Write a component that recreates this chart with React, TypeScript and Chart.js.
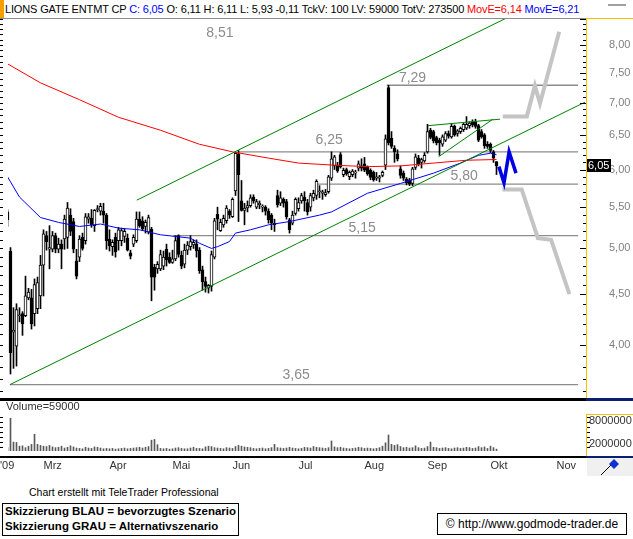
import React, { useEffect, useRef } from "react";
import { Chart, registerables } from "chart.js";

Chart.register(...registerables);

// ---------- DATA ----------
const FIRST_DAY = -12; // trading-day index of first candle (0 = 2 Mar 2009)

const opens = [
  5.44, 4.97, 4.12, 3.99, 4.28, 4.30, 4.28, 4.46, 4.46, 4.30,
  4.35, 4.48, 4.81, 5.15, 4.99, 4.99, 5.15, 4.99, 5.05, 5.11,
  5.13, 5.40, 5.32, 4.86, 4.90, 5.13, 5.09, 5.35, 5.36, 5.27,
  5.47, 5.45, 5.45, 5.40, 5.11, 5.02, 5.13, 5.09, 5.09, 5.14,
  5.12, 4.95, 5.05, 5.09, 5.35, 5.33, 5.26, 5.19, 5.23, 4.79,
  4.77, 4.77, 4.80, 4.99, 4.90, 4.84, 4.88, 5.15, 4.92, 4.82,
  4.98, 5.02, 5.04, 5.05, 4.98, 4.76, 4.63, 4.56, 4.58, 4.90,
  5.41, 5.21, 5.28, 5.33, 5.45, 5.38, 5.71, 6.22, 5.58, 5.46,
  5.49, 5.52, 5.63, 5.50, 5.53, 5.50, 5.50, 5.45, 5.40, 5.30,
  5.65, 5.55, 5.60, 5.57, 5.34, 5.30, 5.42, 5.48, 5.58, 5.63,
  5.56, 5.50, 5.62, 5.65, 5.70, 5.68, 5.66, 5.70, 5.88, 6.05,
  6.06, 6.21, 5.93, 6.00, 5.90, 5.93, 5.95, 6.02, 6.05, 6.08,
  6.03, 5.99, 5.96, 5.88, 5.88, 5.92, 6.06, 7.25, 6.45, 6.30,
  6.22, 6.01, 5.95, 5.87, 5.86, 5.81, 6.03, 6.16, 6.10, 6.12,
  6.25, 6.57, 6.55, 6.46, 6.42, 6.36, 6.42, 6.52, 6.47, 6.63,
  6.52, 6.55, 6.58, 6.60, 6.64, 6.70, 6.70, 6.64, 6.55, 6.50,
  6.36, 6.36, 6.25, 6.11,
];
const highs = [
  5.47, 5.01, 4.36, 4.40, 4.36, 4.32, 4.69, 4.56, 4.55, 4.66,
  4.68, 4.92, 5.22, 5.20, 5.27, 5.20, 5.18, 5.12, 5.10, 5.40,
  5.56, 5.48, 5.36, 4.99, 5.15, 5.18, 5.42, 5.42, 5.47, 5.47,
  5.52, 5.55, 5.55, 5.42, 5.22, 5.10, 5.18, 5.25, 5.24, 5.23,
  5.17, 4.98, 5.16, 5.44, 5.44, 5.38, 5.34, 5.40, 5.25, 4.82,
  4.85, 4.98, 4.97, 5.05, 4.95, 4.98, 5.15, 5.16, 4.97, 5.05,
  5.08, 5.15, 5.10, 5.10, 5.01, 4.80, 4.68, 4.60, 4.97, 5.36,
  5.50, 5.35, 5.40, 5.52, 5.47, 5.62, 6.25, 6.27, 5.85, 5.55,
  5.58, 5.66, 5.66, 5.60, 5.58, 5.53, 5.52, 5.48, 5.42, 5.35,
  5.72, 5.70, 5.62, 5.60, 5.36, 5.45, 5.62, 5.62, 5.68, 5.70,
  5.60, 5.68, 5.72, 5.86, 5.78, 5.72, 5.73, 5.92, 6.25, 6.20,
  6.10, 6.24, 6.02, 6.02, 5.98, 6.00, 5.99, 6.12, 6.15, 6.17,
  6.05, 6.01, 5.98, 5.96, 5.92, 5.98, 6.50, 7.29, 6.55, 6.34,
  6.28, 6.05, 5.98, 5.89, 5.88, 6.03, 6.22, 6.20, 6.16, 6.24,
  6.66, 6.60, 6.57, 6.48, 6.45, 6.50, 6.55, 6.56, 6.66, 6.65,
  6.58, 6.62, 6.68, 6.78, 6.70, 6.73, 6.74, 6.66, 6.58, 6.52,
  6.40, 6.38, 6.27, 6.11,
];
const lows = [
  5.26, 3.74, 3.79, 3.81, 4.22, 4.09, 4.27, 4.44, 4.15, 4.18,
  4.30, 4.35, 4.48, 4.98, 4.77, 4.96, 4.95, 4.95, 4.77, 4.99,
  5.00, 5.15, 4.95, 4.66, 4.85, 4.98, 5.05, 5.30, 5.25, 5.20,
  5.44, 5.40, 5.30, 4.99, 4.97, 4.92, 4.90, 4.98, 5.03, 5.07,
  4.97, 4.88, 5.02, 5.07, 5.25, 5.21, 5.18, 5.17, 4.43, 4.54,
  4.72, 4.75, 4.76, 4.80, 4.83, 4.83, 4.86, 4.90, 4.77, 4.78,
  4.93, 4.98, 5.00, 4.90, 4.72, 4.54, 4.52, 4.51, 4.53, 4.88,
  5.22, 5.20, 5.25, 5.30, 5.36, 5.37, 5.65, 5.32, 5.45, 5.28,
  5.44, 5.50, 5.55, 5.48, 5.48, 5.44, 5.40, 5.30, 5.22, 5.20,
  5.50, 5.52, 5.50, 5.35, 5.18, 5.28, 5.40, 5.45, 5.55, 5.45,
  5.40, 5.45, 5.58, 5.60, 5.62, 5.60, 5.64, 5.68, 5.85, 6.00,
  5.96, 6.02, 5.90, 5.92, 5.86, 5.90, 5.88, 5.98, 5.98, 5.97,
  5.92, 5.86, 5.84, 5.85, 5.83, 5.90, 6.00, 6.35, 6.30, 6.10,
  6.12, 5.88, 5.85, 5.79, 5.78, 5.78, 6.00, 6.05, 6.02, 6.10,
  6.23, 6.44, 6.38, 6.35, 6.20, 6.33, 6.40, 6.45, 6.45, 6.48,
  6.48, 6.52, 6.55, 6.58, 6.60, 6.62, 6.60, 6.40, 6.45, 6.30,
  6.30, 6.24, 6.10, 5.93,
];
const closes = [
  5.34, 3.93, 4.14, 4.34, 4.29, 4.20, 4.48, 4.52, 4.20, 4.60,
  4.62, 4.81, 5.17, 5.08, 5.01, 5.15, 4.99, 5.05, 4.99, 5.35,
  5.49, 5.20, 4.99, 4.69, 5.11, 5.00, 5.38, 5.38, 5.28, 5.46,
  5.48, 5.51, 5.40, 5.09, 5.03, 5.07, 4.96, 5.22, 5.21, 5.20,
  4.98, 4.91, 5.13, 5.35, 5.27, 5.23, 5.31, 5.37, 4.68, 4.68,
  4.82, 4.93, 4.90, 4.87, 4.84, 4.88, 5.09, 4.93, 4.80, 4.98,
  5.04, 5.08, 5.07, 4.97, 4.75, 4.63, 4.58, 4.59, 4.93, 5.33,
  5.35, 5.31, 5.36, 5.49, 5.40, 5.60, 6.23, 5.93, 5.46, 5.49,
  5.52, 5.62, 5.58, 5.57, 5.55, 5.51, 5.45, 5.34, 5.30, 5.28,
  5.53, 5.62, 5.55, 5.38, 5.22, 5.40, 5.60, 5.56, 5.65, 5.58,
  5.44, 5.65, 5.68, 5.84, 5.71, 5.70, 5.69, 5.90, 6.15, 6.18,
  5.98, 6.04, 5.99, 5.94, 5.96, 5.98, 5.96, 6.08, 6.02, 5.99,
  5.94, 5.89, 5.86, 5.90, 5.90, 5.96, 6.44, 6.38, 6.33, 6.25,
  6.15, 5.92, 5.88, 5.82, 5.80, 6.01, 6.18, 6.08, 6.14, 6.20,
  6.55, 6.46, 6.41, 6.38, 6.38, 6.47, 6.52, 6.48, 6.63, 6.50,
  6.56, 6.60, 6.66, 6.66, 6.68, 6.65, 6.63, 6.42, 6.47, 6.34,
  6.33, 6.27, 6.16, 6.05,
];
// volume in thousands of shares
const volumesK = [
  900, 8800, 2400, 2300, 1300, 1400, 900, 1300, 1800, 4500,
  1800, 1500, 1300, 1200, 1500, 1100, 900, 1000, 1300, 800,
  1000, 1400, 1100, 800, 700, 600, 1000, 800, 700, 1100,
  1000, 800, 600, 700, 600, 700, 500, 600, 700, 800,
  600, 700, 800, 900, 1000, 800, 1000, 1200, 2900, 3100,
  1700, 700, 600, 700, 500, 600, 800, 900, 700, 600,
  600, 800, 1000, 700, 700, 600, 1100, 1300, 1200, 900,
  800, 700, 600, 900, 800, 700, 1200, 1500, 1300, 1100,
  1000, 900, 700, 600, 700, 800, 600, 700, 900, 1800,
  900, 800, 700, 800, 1000, 800, 700, 600, 700, 1000,
  900, 800, 1200, 1000, 900, 800, 700, 900, 2700, 1100,
  900, 1000, 800, 700, 600, 700, 800, 1000, 900, 700,
  800, 700, 600, 700, 900, 1300, 2200, 4300, 1800, 1500,
  1700, 1200, 900, 1000, 800, 900, 1400, 900, 700, 800,
  1200, 2400, 1000, 900, 700, 800, 900, 700, 600, 800,
  900, 700, 800, 1000, 900, 700, 800, 1200, 900, 1100,
  700, 1300, 900, 500,
];

const monthStartDays = [0, 22, 43, 63, 85, 107, 128, 149, 171];
const monthLabels = ["Mrz", "Apr", "Mai", "Jun", "Jul", "Aug", "Sep", "Okt", "Nov"];
const priceTicks = [4, 4.5, 5, 5.5, 6, 6.5, 7, 7.5, 8];
const volumeTicksK = [2000, 8000];

// moving averages (day index, value)
const redMaDays = [-12, -1, 12, 25, 39, 52, 63, 75, 85, 97, 108, 119, 130, 141, 151];
const redMaValues = [7.66, 7.33, 7.05, 6.77, 6.57, 6.36, 6.25, 6.16, 6.09, 6.06, 6.04, 6.05, 6.09, 6.13, 6.14];
const blueMaDays = [-12, -8, -1, 5, 12, 19, 25, 32, 39, 49, 52, 56, 58, 62, 64, 69, 75, 82, 92, 96, 108, 119, 130, 139, 145, 149, 151];
const blueMaValues = [5.9, 5.63, 5.37, 5.31, 5.26, 5.29, 5.24, 5.22, 5.16, 5.12, 5.06, 5.0, 5.02, 5.08, 5.18, 5.22, 5.28, 5.32, 5.4, 5.44, 5.68, 5.81, 5.95, 6.09, 6.2, 6.23, 6.21];

// horizontal levels
const levelValues = [8.51, 7.29, 6.25, 5.8, 5.15, 3.65];
const levelLabels = ["8,51", "7,29", "6,25", "5,80", "5,15", "3,65"];
const levelStartDays = [-11.8, 114.4, 64.8, 90.8, 43.2, -11.2];
const levelEndDay = 178.2;

// trend lines
const channelLowerDays = [-11.2, 180.5];
const channelLowerValues = [3.65, 7.01];
const channelUpperDays = [31.1, 156.2];
const channelUpperValues = [5.59, 8.57];
const wedgeUpperDays = [128.2, 152.2];
const wedgeUpperValues = [6.64, 6.74];
const wedgeLowerDays = [131.7, 149.8];
const wedgeLowerValues = [6.18, 6.74];

// scenario sketches
const blueScenarioDays = [151.8, 153.5, 155.2, 157.5];
const blueScenarioValues = [6.04, 5.82, 6.25, 5.95];
const grayUpDays = [153.1, 161.1, 163.8, 165.5, 171.9];
const grayUpValues = [6.78, 6.78, 7.28, 6.99, 8.25];
const grayDownDays = [153.0, 159.4, 164.8, 169.2, 175.3];
const grayDownValues = [5.73, 5.73, 5.12, 5.1, 4.5];

const headerName = "LIONS GATE ENTMT CP";
const headerClose = "C: 6,05";
const headerRest = "O: 6,11 H: 6,11 L: 5,93 -0,11 TckV: 100 LV: 59000 TotV: 273500";
const headerMa1 = "MovE=6,14";
const headerMa2 = "MovE=6,21";
const volumeLabel = "Volume=59000";

// ---------- LAYOUT ----------
const W = 633;
const X_MIN = -11.8333;
const X_MAX = 180.8333;
const Y_MIN = 3.539;
const Y_MAX = 8.515;
const VOL_MAX_K = 13170;
const FONT = '"Liberation Sans", Arial, sans-serif';
const LEVEL_LABEL_LAYOUT = [
  { day: 58.8, dy: 15 },
  { day: 123, dy: -7 },
  { day: 95.2, dy: -11.5 },
  { day: 140.2, dy: -8 },
  { day: 106.2, dy: -7.5 },
  { day: 84.2, dy: -9.5 },
];

const days = opens.map((_, k) => FIRST_DAY + k);
const pts = (xs: number[], ys: number[]) => xs.map((x, k) => ({ x, y: ys[k] }));
const fmtPrice = (v: number) => v.toFixed(2).replace(".", ",");

const lineDs = (data: any[], color: string, width: number, order: number) => ({
  type: "line",
  data,
  borderColor: color,
  borderWidth: width,
  pointRadius: 0,
  fill: false,
  tension: 0,
  order,
});

const noScalePadding = (s: any, width: number) => {
  s.width = width;
  s.paddingTop = 0;
  s.paddingBottom = 0;
};

const pricePlugin = {
  id: "priceDecor",
  afterDraw(chart: any) {
    const { ctx, scales } = chart;
    const ys = scales.y;
    const xs = scales.x;
    ctx.save();
    // panel top border
    ctx.fillStyle = "#8c8c8c";
    ctx.fillRect(0, 18, 586, 1);
    ctx.fillStyle = "#f2c200";
    ctx.fillRect(586, 18, 47, 1);
    ctx.fillRect(586, 18, 1, 380);
    // ticks on both sides
    ctx.fillStyle = "#000";
    for (let k = 36; k <= 85; k++) {
      const v = k / 10;
      const py = Math.round(ys.getPixelForValue(v));
      const major = k % 5 === 0;
      ctx.fillRect(0, py, 3, 1);
      ctx.fillRect(major ? 580 : 583, py, major ? 6 : 3, 1);
    }
    // level labels
    ctx.font = "14px " + FONT;
    ctx.fillStyle = "#8c8c8c";
    ctx.textAlign = "center";
    ctx.textBaseline = "middle";
    levelValues.forEach((v, k) => {
      const lay = LEVEL_LABEL_LAYOUT[k];
      ctx.fillText(levelLabels[k], xs.getPixelForValue(lay.day), ys.getPixelForValue(v) + lay.dy);
    });
    // last price box
    const last = closes[closes.length - 1];
    const py = ys.getPixelForValue(last);
    ctx.fillStyle = "#000";
    ctx.fillRect(587, Math.round(py) - 7, 24, 13);
    ctx.fillStyle = "#fff";
    ctx.font = "11px " + FONT;
    ctx.textAlign = "left";
    ctx.fillText(fmtPrice(last), 588, Math.round(py));
    // bottom band
    ctx.fillStyle = "#000";
    ctx.fillRect(0, 398, 586, 3);
    ctx.fillStyle = "#0a1f6e";
    ctx.fillRect(586, 398, 47, 3);
    ctx.restore();
  },
};

const volumePlugin = {
  id: "volumeDecor",
  afterDraw(chart: any) {
    const { ctx } = chart;
    ctx.save();
    ctx.font = "11px " + FONT;
    ctx.fillStyle = "#333";
    ctx.textBaseline = "middle";
    ctx.textAlign = "left";
    ctx.fillText(volumeLabel, 6, 6);
    ctx.fillText("'09", 0, 64.5);
    // yellow axis box
    ctx.fillStyle = "#f2c200";
    ctx.fillRect(586, 13, 47, 1);
    ctx.fillRect(586, 13, 1, 43);
    // small ticks
    ctx.fillStyle = "#000";
    for (let y = 16; y <= 48; y += 5) {
      ctx.fillRect(0, y, 3, 1);
      ctx.fillRect(587, y, 3, 1);
    }
    // bottom line
    ctx.fillRect(0, 55, 586, 2);
    ctx.fillStyle = "#0a1f6e";
    ctx.fillRect(586, 55, 47, 2);
    // corner box with icon
    ctx.fillStyle = "#f0f0f0";
    ctx.fillRect(587, 57, 46, 18);
    ctx.strokeStyle = "#000";
    ctx.lineWidth = 1;
    ctx.beginPath();
    ctx.moveTo(601, 74);
    ctx.lineTo(611, 64);
    ctx.stroke();
    ctx.fillStyle = "#1030d0";
    ctx.beginPath();
    ctx.moveTo(614, 58);
    ctx.lineTo(619, 63);
    ctx.lineTo(614, 68);
    ctx.lineTo(609, 63);
    ctx.closePath();
    ctx.fill();
    ctx.restore();
  },
};

function PriceChart() {
  const ref = useRef<HTMLCanvasElement | null>(null);
  useEffect(() => {
    if (!ref.current) return;
    const datasets: any[] = [];
    levelValues.forEach((v, k) => {
      datasets.push(lineDs([{ x: levelStartDays[k], y: v }, { x: levelEndDay, y: v }], "#8c8c8c", 1.3, 6));
    });
    datasets.push({
      type: "bar",
      data: days.map((d, k) => ({ x: d, y: [lows[k], highs[k]] })),
      backgroundColor: "#000",
      barThickness: 1,
      grouped: false,
      order: 5,
    });
    datasets.push({
      type: "bar",
      data: days.map((d, k) => ({ x: d, y: [opens[k], closes[k]] })),
      backgroundColor: days.map((_, k) => (closes[k] >= opens[k] ? "#fff" : "#000")),
      borderColor: "#000",
      borderWidth: 1,
      borderSkipped: false,
      barThickness: 3,
      grouped: false,
      minBarLength: 1,
      order: 4,
    });
    datasets.push(lineDs(pts(redMaDays, redMaValues), "#ff0000", 1, 3));
    datasets.push(lineDs(pts(blueMaDays, blueMaValues), "#0000ff", 1, 3));
    datasets.push(lineDs(pts(channelLowerDays, channelLowerValues), "#008000", 1, 2));
    datasets.push(lineDs(pts(channelUpperDays, channelUpperValues), "#008000", 1, 2));
    datasets.push(lineDs(pts(wedgeUpperDays, wedgeUpperValues), "#008000", 1, 2));
    datasets.push(lineDs(pts(wedgeLowerDays, wedgeLowerValues), "#008000", 1, 2));
    datasets.push(lineDs(pts(grayUpDays, grayUpValues), "#c4c4c4", 4, 1));
    datasets.push(lineDs(pts(grayDownDays, grayDownValues), "#c4c4c4", 4, 1));
    datasets.push(lineDs(pts(blueScenarioDays, blueScenarioValues), "#0000e6", 3.5, 0));

    const chart = new Chart(ref.current, {
      type: "bar",
      data: { datasets },
      options: {
        animation: false,
        responsive: false,
        devicePixelRatio: 1,
        events: [],
        layout: { padding: { left: 8, top: 18, right: 0, bottom: 3 } },
        plugins: { legend: { display: false }, tooltip: { enabled: false } },
        scales: {
          x: {
            type: "linear",
            min: X_MIN,
            max: X_MAX,
            offset: false,
            display: false,
          },
          y: {
            type: "logarithmic",
            position: "right",
            min: Y_MIN,
            max: Y_MAX,
            grid: { display: false, drawTicks: false },
            border: { display: false },
            afterBuildTicks: (s: any) => {
              s.ticks = priceTicks.map((v) => ({ value: v }));
            },
            afterFit: (s: any) => noScalePadding(s, 47),
            ticks: {
              autoSkip: false,
              padding: 23,
              color: "#808080",
              font: { size: 11, family: FONT },
              callback: (v: any) => fmtPrice(Number(v)),
            },
          },
        },
      } as any,
      plugins: [pricePlugin],
    } as any);
    return () => chart.destroy();
  }, []);
  return <canvas ref={ref} width={W} height={401} style={{ position: "absolute", left: 0, top: 0 }} />;
}

function VolumeChart() {
  const ref = useRef<HTMLCanvasElement | null>(null);
  useEffect(() => {
    if (!ref.current) return;
    const chart = new Chart(ref.current, {
      type: "bar",
      data: {
        datasets: [
          {
            data: days.map((d, k) => ({ x: d, y: volumesK[k] })),
            backgroundColor: "#5a5a5a",
            barThickness: 1,
            grouped: false,
          },
        ],
      },
      options: {
        animation: false,
        responsive: false,
        devicePixelRatio: 1,
        events: [],
        layout: { padding: { left: 8, top: 1, right: 0, bottom: 0 } },
        plugins: { legend: { display: false }, tooltip: { enabled: false } },
        scales: {
          x: {
            type: "linear",
            min: X_MIN,
            max: X_MAX,
            offset: false,
            grid: { display: false, drawTicks: false },
            border: { display: false },
            afterBuildTicks: (s: any) => {
              s.ticks = monthStartDays.map((v) => ({ value: v }));
            },
            afterFit: (s: any) => {
              s.height = 25;
              s.paddingLeft = 0;
              s.paddingRight = 0;
            },
            ticks: {
              autoSkip: false,
              maxRotation: 0,
              align: "start",
              padding: 8,
              color: "#333",
              font: { size: 11, family: FONT },
              callback: (v: any) => {
                const idx = monthStartDays.indexOf(Number(v));
                return idx >= 0 ? monthLabels[idx] : "";
              },
            },
          },
          y: {
            type: "linear",
            position: "right",
            min: 0,
            max: VOL_MAX_K,
            grid: { display: false, drawTicks: false },
            border: { display: false },
            afterBuildTicks: (s: any) => {
              s.ticks = volumeTicksK.map((v) => ({ value: v }));
            },
            afterFit: (s: any) => noScalePadding(s, 47),
            ticks: {
              autoSkip: false,
              padding: 3,
              color: "#333",
              font: { size: 11, family: FONT },
              callback: (v: any) => String(Number(v) * 1000),
            },
          },
        },
      } as any,
      plugins: [volumePlugin],
    } as any);
    return () => chart.destroy();
  }, []);
  return <canvas ref={ref} width={W} height={75} style={{ position: "absolute", left: 0, top: 401 }} />;
}

export default function App() {
  return (
    <div
      style={{
        position: "fixed",
        left: 0,
        top: 0,
        width: W,
        height: 539,
        background: "#fff",
        overflow: "hidden",
        fontFamily: FONT,
      }}
    >
      <div style={{ position: "absolute", left: 0, top: 0, width: 4, height: 18, background: "#f5a000" }} />
      <div
        style={{
          position: "absolute",
          left: 5,
          top: 2,
          fontSize: 11,
          letterSpacing: "-0.15px",
          lineHeight: "14px",
          whiteSpace: "nowrap",
          color: "#000",
        }}
      >
        {headerName} <span style={{ color: "#0000ff" }}>{headerClose}</span> {headerRest}{" "}
        <span style={{ color: "#ff0000" }}>{headerMa1}</span> <span style={{ color: "#0000ff" }}>{headerMa2}</span>
      </div>
      <div style={{ position: "absolute", left: 608, top: 4, width: 18, height: 2, background: "#a0a0a0" }} />
      <PriceChart />
      <VolumeChart />
      <div style={{ position: "absolute", left: 29, top: 486, fontSize: 10.5, lineHeight: "13px", color: "#000", whiteSpace: "nowrap" }}>
        Chart erstellt mit TeleTrader Professional
      </div>
      <div
        style={{
          position: "absolute",
          left: 2,
          top: 503,
          width: 233,
          height: 31,
          border: "1px solid #000",
          padding: "0 0 0 2px",
          fontSize: 11.5,
          fontWeight: "bold",
          lineHeight: "15px",
          whiteSpace: "nowrap",
          color: "#000",
        }}
      >
        <div>Skizzierung BLAU = bevorzugtes Szenario</div>
        <div>Skizzierung GRAU = Alternativszenario</div>
      </div>
      <div
        style={{
          position: "absolute",
          left: 437,
          top: 513,
          width: 188,
          height: 20,
          border: "1px solid #000",
          fontSize: 12,
          lineHeight: "20px",
          textAlign: "center",
          whiteSpace: "nowrap",
          color: "#000",
        }}
      >
        © http://www.godmode-trader.de
      </div>
    </div>
  );
}
